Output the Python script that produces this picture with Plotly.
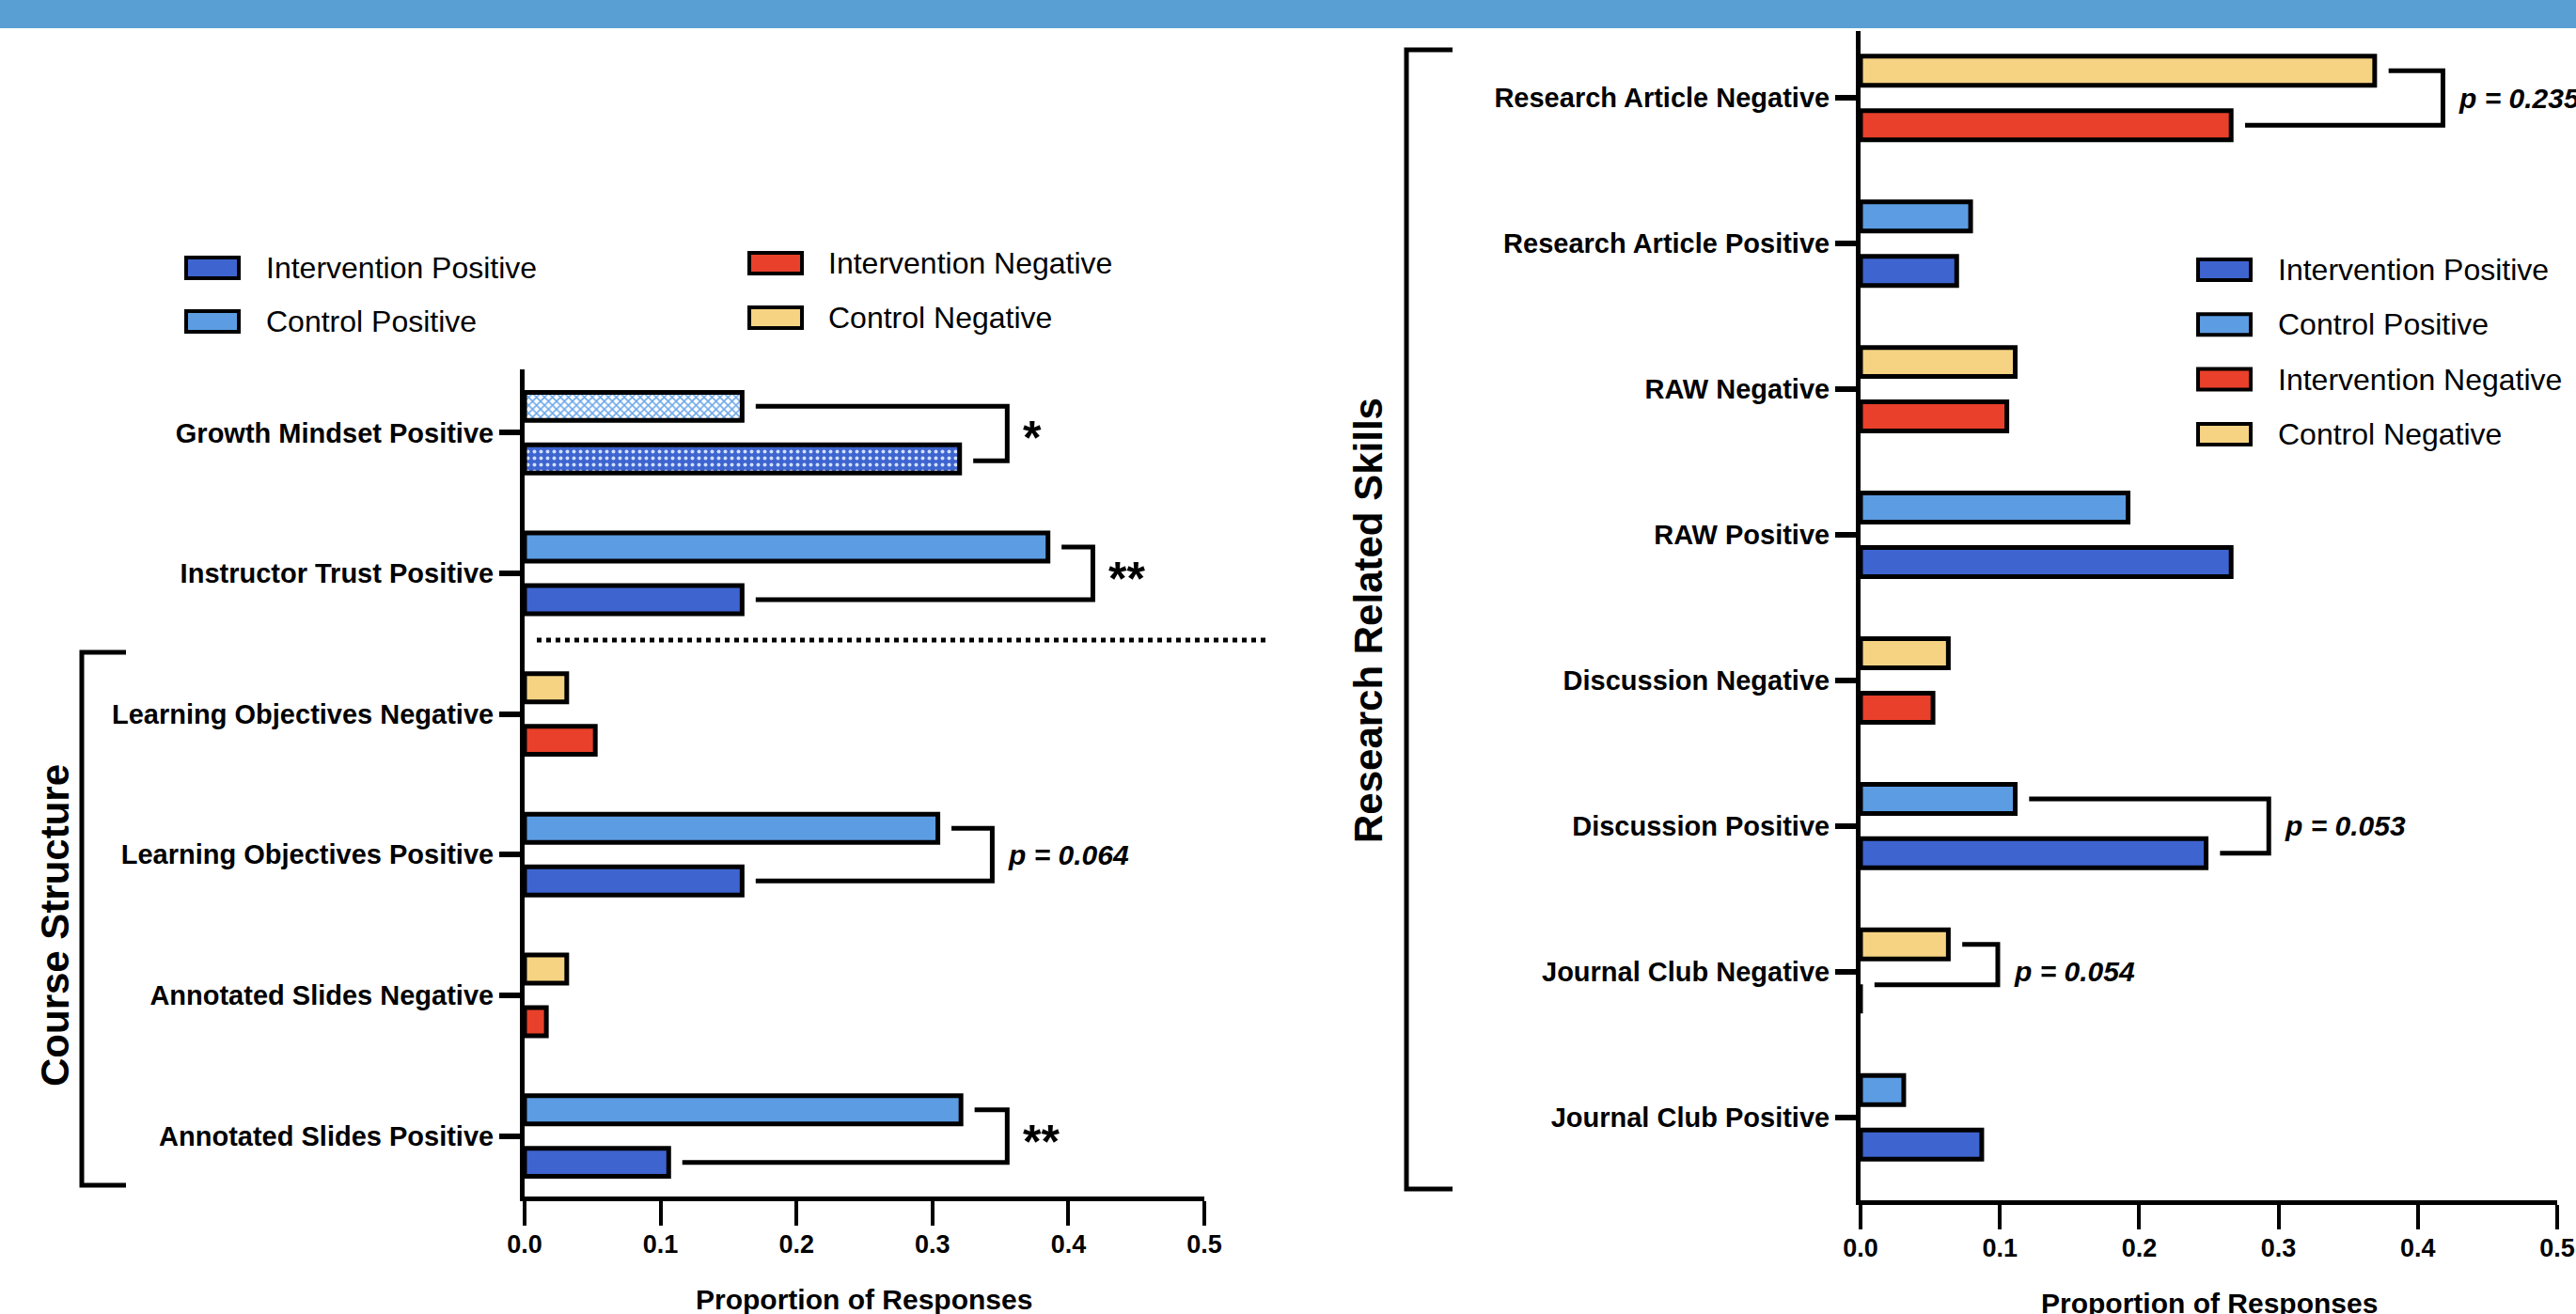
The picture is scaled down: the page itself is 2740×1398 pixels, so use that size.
import plotly.graph_objects as go

W, H = 2740, 1398

# ---------------- data ----------------
left_categories = ["Growth Mindset Positive", "Instructor Trust Positive",
                   "Learning Objectives Negative", "Learning Objectives Positive",
                   "Annotated Slides Negative", "Annotated Slides Positive"]
left_int_pos = [0.320, 0.160, None, 0.160, None, 0.106]
left_ctrl_pos = [0.160, 0.385, None, 0.304, None, 0.321]
left_int_neg = [None, None, 0.052, None, 0.016, None]
left_ctrl_neg = [None, None, 0.031, None, 0.031, None]

right_categories = ["Research Article Negative", "Research Article Positive",
                    "RAW Negative", "RAW Positive",
                    "Discussion Negative", "Discussion Positive",
                    "Journal Club Negative", "Journal Club Positive"]
right_int_pos = [None, 0.069, None, 0.266, None, 0.248, None, 0.087]
right_ctrl_pos = [None, 0.079, None, 0.192, None, 0.111, None, 0.031]
right_int_neg = [0.266, None, 0.105, None, 0.052, None, 0.0, None]
right_ctrl_neg = [0.369, None, 0.111, None, 0.063, None, 0.063, None]

series_names = ["Intervention Positive", "Control Positive",
                "Intervention Negative", "Control Negative"]
x_tick_vals = [0.0, 0.1, 0.2, 0.3, 0.4, 0.5]
x_tick_labels = ["0.0", "0.1", "0.2", "0.3", "0.4", "0.5"]
axis_title = "Proportion of Responses"
group_labels = ["Course Structure", "Research Related Skills"]
patterned_category = "Growth Mindset Positive"

# significance brackets: (panel, category, label, bracket x, bottom arm offset)
brackets = [
    ("L", "Growth Mindset Positive", "*", 0.355, -0.20),
    ("L", "Instructor Trust Positive", "**", 0.418, -0.187),
    ("L", "Learning Objectives Positive", "<i>p = 0.064</i>", 0.344, -0.187),
    ("L", "Annotated Slides Positive", "**", 0.355, -0.187),
    ("R", "Research Article Negative", "<i>p = 0.235</i>", 0.418, -0.187),
    ("R", "Discussion Positive", "<i>p = 0.053</i>", 0.293, -0.187),
    ("R", "Journal Club Negative", "<i>p = 0.054</i>", 0.0985, -0.09),
]

# ---------------- styles ----------------
COL = {
    "Intervention Positive": "#3e64cf",
    "Control Positive": "#5c9ce2",
    "Intervention Negative": "#e8402a",
    "Control Negative": "#f6d382",
}
FONT = "Liberation Sans, Arial, Helvetica, sans-serif"
BAR_W = 0.2
OFF = 0.187


def px(x):
    return x / W


def py(y):
    return 1 - y / H


fig = go.Figure()


def positions(cats):
    n = len(cats)
    return [n - 1 - i for i in range(n)]


def add_series(cats, values, name, xa, ya, pattern=None):
    top = name.startswith("Control")
    offset = (OFF - BAR_W / 2) if top else (-OFF - BAR_W / 2)
    marker = dict(color=COL[name], line=dict(color="black", width=5))
    if pattern is not None:
        marker["pattern"] = pattern
    fig.add_trace(go.Bar(
        x=values, y=positions(cats), orientation="h", name=name,
        xaxis=xa, yaxis=ya, offset=offset, width=BAR_W,
        marker=marker, showlegend=False, hoverinfo="x+name",
    ))


is_pat = [c == patterned_category for c in left_categories]
ctrl_pattern = dict(
    shape=["x" if p else "" for p in is_pat],
    bgcolor=["#ffffff" if p else COL["Control Positive"] for p in is_pat],
    fgcolor=["#6aa6ea" if p else COL["Control Positive"] for p in is_pat],
    size=6, solidity=0.45, fillmode="replace",
)
int_pattern = dict(
    shape=["." if p else "" for p in is_pat],
    bgcolor=[COL["Intervention Positive"] for p in is_pat],
    fgcolor=["#cfe0ff" if p else COL["Intervention Positive"] for p in is_pat],
    size=7, solidity=0.25, fillmode="replace",
)

add_series(left_categories, left_int_pos, "Intervention Positive", "x", "y", int_pattern)
add_series(left_categories, left_ctrl_pos, "Control Positive", "x", "y", ctrl_pattern)
add_series(left_categories, left_int_neg, "Intervention Negative", "x", "y")
add_series(left_categories, left_ctrl_neg, "Control Negative", "x", "y")

add_series(right_categories, right_int_pos, "Intervention Positive", "x2", "y2")
add_series(right_categories, right_ctrl_pos, "Control Positive", "x2", "y2")
add_series(right_categories, right_int_neg, "Intervention Negative", "x2", "y2")
add_series(right_categories, right_ctrl_neg, "Control Negative", "x2", "y2")

xaxis_common = dict(
    range=[0, 0.5], tickvals=x_tick_vals, ticktext=x_tick_labels,
    ticks="outside", ticklen=26, tickwidth=4, tickcolor="black",
    showline=True, linewidth=5, linecolor="black", showgrid=False, zeroline=False,
    tickfont=dict(family=FONT, size=27, color="black", weight="bold"),
    ticklabelstandoff=-3, fixedrange=True, automargin=False,
)
yaxis_common = dict(
    ticks="outside", ticklen=22, tickwidth=6, tickcolor="black",
    showline=True, linewidth=5, linecolor="black", showgrid=False, zeroline=False,
    tickfont=dict(family=FONT, size=29, color="black", weight="bold"),
    fixedrange=True, automargin=False,
)

fig.update_layout(
    template="none",
    width=W, height=H, autosize=False,
    margin=dict(l=0, r=0, t=0, b=0, pad=0, autoexpand=False),
    paper_bgcolor="white", plot_bgcolor="rgba(0,0,0,0)",
    barmode="overlay", showlegend=False,
    font=dict(family=FONT, color="black"),
    xaxis=dict(domain=[px(558), px(1281)], anchor="y", **xaxis_common),
    yaxis=dict(domain=[py(1273), py(393)], anchor="x", range=[-0.43, 5.45],
               tickvals=positions(left_categories), ticktext=left_categories,
               **yaxis_common),
    xaxis2=dict(domain=[px(1979), px(2720)], anchor="y2", **xaxis_common),
    yaxis2=dict(domain=[py(1277), py(33)], anchor="x2", range=[-0.57, 7.46],
                tickvals=positions(right_categories), ticktext=right_categories,
                **yaxis_common),
)

shapes = []
annotations = []

# top banner
shapes.append(dict(type="rect", xref="paper", yref="paper", x0=0, x1=1,
                   y0=py(30), y1=1, fillcolor="#599fd4", line=dict(width=0),
                   layer="above"))

# dotted separator on the left panel
shapes.append(dict(type="line", xref="paper", yref="paper",
                   x0=px(571), x1=px(1348), y0=py(681), y1=py(681),
                   line=dict(color="black", width=5, dash="dot")))

# group brackets
for xv, xt, y0, y1 in [(87, 134, 694, 1261), (1496, 1545, 53, 1265)]:
    shapes.append(dict(type="path", xref="paper", yref="paper",
                       path=f"M {px(xt)},{py(y0)} L {px(xv)},{py(y0)} L {px(xv)},{py(y1)} L {px(xt)},{py(y1)}",
                       line=dict(color="black", width=5)))
for label, xc, yc in [(group_labels[0], 58, 985), (group_labels[1], 1455, 660)]:
    annotations.append(dict(text=f"<b>{label}</b>", xref="paper", yref="paper",
                            x=px(xc), y=py(yc), textangle=-90, showarrow=False,
                            xanchor="center", yanchor="middle",
                            font=dict(family=FONT, size=42, color="black")))

# axis titles
for xc, yc in [(919, 1382), (2350, 1386)]:
    annotations.append(dict(text=f"<b>{axis_title}</b>", xref="paper", yref="paper",
                            x=px(xc), y=py(yc), showarrow=False,
                            xanchor="center", yanchor="middle",
                            font=dict(family=FONT, size=30, color="black")))

# significance brackets
panel = {
    "L": (left_categories, dict(zip(series_names, [left_int_pos, left_ctrl_pos, left_int_neg, left_ctrl_neg])), "x", "y"),
    "R": (right_categories, dict(zip(series_names, [right_int_pos, right_ctrl_pos, right_int_neg, right_ctrl_neg])), "x2", "y2"),
}
for p, cat, label, bx, bot in brackets:
    cats, series, xr, yr = panel[p]
    i = cats.index(cat)
    pos = positions(cats)[i]
    kind = "Positive" if cat.endswith("Positive") else "Negative"
    top_val = series["Control " + kind][i] or 0.0
    bot_val = series["Intervention " + kind][i] or 0.0
    t0 = top_val + 0.01
    b0 = bot_val + 0.01
    yt = pos + OFF
    yb = pos + bot
    shapes.append(dict(type="path", xref=xr, yref=yr,
                       path=f"M {t0},{yt} L {bx},{yt} L {bx},{yb} L {b0},{yb}",
                       line=dict(color="black", width=5)))
    star = label.startswith("*")
    annotations.append(dict(text=f"<b>{label}</b>", xref=xr, yref=yr,
                            x=bx + 0.01, y=pos, showarrow=False,
                            xanchor="left", yanchor="middle",
                            yshift=-6 if star else 0,
                            font=dict(family=FONT, size=50 if star else 30, color="black")))

# manual legends
def legend_item(name, sx, sy, tx):
    shapes.append(dict(type="rect", xref="paper", yref="paper",
                       x0=px(sx), x1=px(sx + 56), y0=py(sy + 11), y1=py(sy - 11),
                       fillcolor=COL[name], line=dict(color="black", width=4)))
    annotations.append(dict(text=name, xref="paper", yref="paper",
                            x=px(tx), y=py(sy), showarrow=False,
                            xanchor="left", yanchor="middle",
                            font=dict(family=FONT, size=32, color="black")))


legend_item("Intervention Positive", 198, 285, 281)
legend_item("Control Positive", 198, 342, 281)
legend_item("Intervention Negative", 797, 280, 879)
legend_item("Control Negative", 797, 338, 879)

for k, name in enumerate(series_names):
    legend_item(name, 2338, 287 + k * 58.3, 2421)

fig.update_layout(shapes=shapes, annotations=annotations)

fig.write_html(
    "out.html",
    config={"displayModeBar": False},
    post_script="document.documentElement.style.margin='0';"
                "document.documentElement.style.overflow='hidden';"
                "document.body.style.margin='0';"
                "document.body.style.padding='0';"
                "document.body.style.overflow='hidden';",
)
